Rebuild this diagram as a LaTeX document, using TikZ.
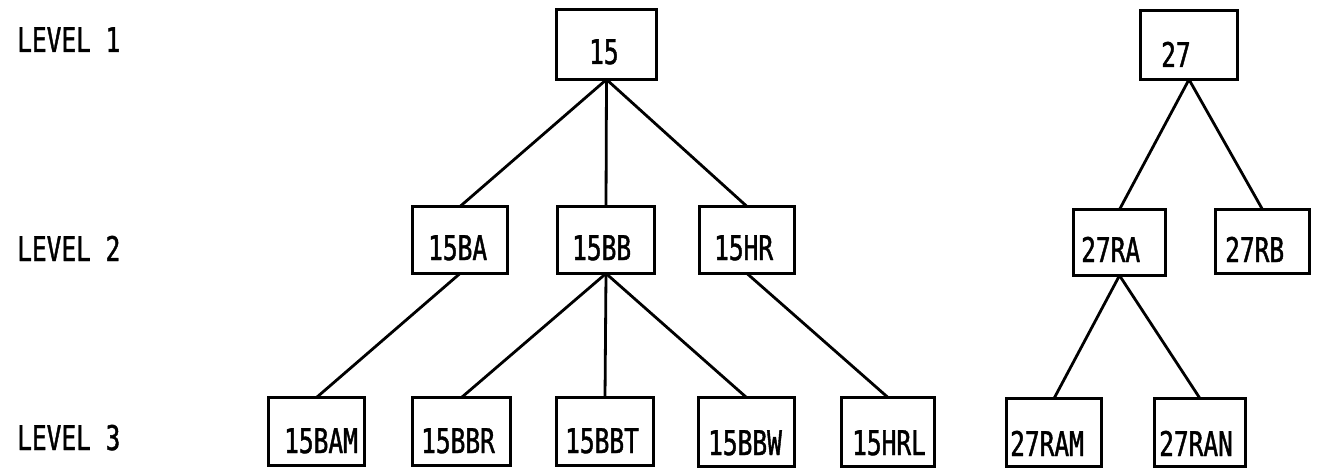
\documentclass[tikz,border=0pt]{standalone}
\usepackage{fontspec}
\newfontfamily\typefont[FakeStretch=0.72,FakeBold=1.2]{DejaVu Sans Mono}
\begin{document}
\begin{tikzpicture}[x=1pt,y=-1pt,
  box/.style={draw, line width=3pt, rectangle, inner sep=0pt, outer sep=0pt},
  lab/.style={anchor=base west, inner sep=0pt, font=\typefont\fontsize{34}{38}\selectfont},
  edge/.style={line width=2.8pt}]
\useasboundingbox (0,0) rectangle (1319,476);
% level labels
\node[lab] (L1) at (17,52) {LEVEL 1};
\node[lab] (L2) at (17,261) {LEVEL 2};
\node[lab] (L3) at (17,450) {LEVEL 3};
% boxes
\node[box, minimum width=100pt, minimum height=70pt] (n15) at (606.5,44.5) {};
\node[box, minimum width=97pt, minimum height=69pt] (n27) at (1189,45) {};
\node[box, minimum width=95pt, minimum height=67pt] (n15BA) at (460,240) {};
\node[box, minimum width=97pt, minimum height=67pt] (n15BB) at (606,240) {};
\node[box, minimum width=95pt, minimum height=67pt] (n15HR) at (747,240) {};
\node[box, minimum width=92pt, minimum height=66pt] (n27RA) at (1119.5,242.5) {};
\node[box, minimum width=94pt, minimum height=64pt] (n27RB) at (1262.5,241.5) {};
\node[box, minimum width=96pt, minimum height=68pt] (n15BAM) at (316.5,431.5) {};
\node[box, minimum width=98pt, minimum height=68pt] (n15BBR) at (461.5,431.5) {};
\node[box, minimum width=97pt, minimum height=68pt] (n15BBT) at (605,431.5) {};
\node[box, minimum width=96pt, minimum height=69pt] (n15BBW) at (746.5,432) {};
\node[box, minimum width=93pt, minimum height=69pt] (n15HRL) at (888,432) {};
\node[box, minimum width=95pt, minimum height=68pt] (n27RAM) at (1054,432.5) {};
\node[box, minimum width=91pt, minimum height=68pt] (n27RAN) at (1200,432.5) {};
% texts
\node[lab] (t15) at (589,64) {15};
\node[lab] (t27) at (1161,67) {27};
\node[lab] (t15BA) at (428,260) {15BA};
\node[lab] (t15BB) at (572,260) {15BB};
\node[lab] (t15HR) at (714,260) {15HR};
\node[lab] (t27RA) at (1081,262) {27RA};
\node[lab] (t27RB) at (1225,262) {27RB};
\node[lab] (t15BAM) at (284,453) {15BAM};
\node[lab] (t15BBR) at (421,453) {15BBR};
\node[lab] (t15BBT) at (565,453) {15BBT};
\node[lab] (t15BBW) at (708,455) {15BBW};
\node[lab] (t15HRL) at (852,455) {15HRL};
\node[lab] (t27RAM) at (1010,456) {27RAM};
\node[lab] (t27RAN) at (1159,456) {27RAN};
% connectors
\draw[edge] (n15.south) -- (n15BA.north);
\draw[edge] (n15.south) -- (n15BB.north);
\draw[edge] (n15.south) -- (n15HR.north);
\draw[edge] (n15BA.south) -- (n15BAM.north);
\draw[edge] (n15BB.south) -- (n15BBR.north);
\draw[edge] (n15BB.south) -- (n15BBT.north);
\draw[edge] (n15BB.south) -- (n15BBW.north);
\draw[edge] (n15HR.south) -- (n15HRL.north);
\draw[edge] (n27.south) -- (n27RA.north);
\draw[edge] (n27.south) -- (n27RB.north);
\draw[edge] (n27RA.south) -- (n27RAM.north);
\draw[edge] (n27RA.south) -- (n27RAN.north);
\end{tikzpicture}
\end{document}
